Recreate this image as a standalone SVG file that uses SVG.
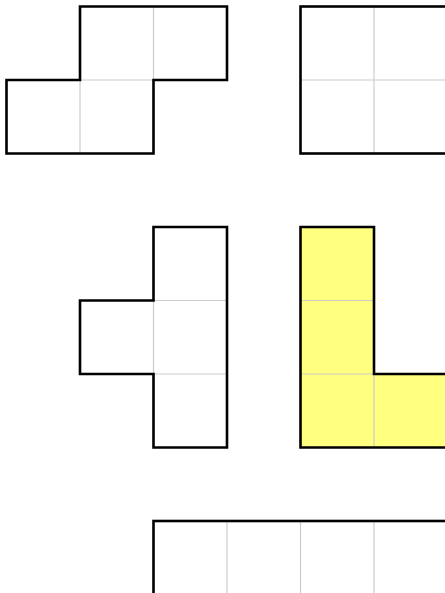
<svg xmlns="http://www.w3.org/2000/svg" width="445" height="593" viewBox="0 0 445 593">
<style>
.grid{stroke:#cccccc;stroke-width:1.2;fill:none}
.outline{stroke:#000;stroke-width:2.6;fill:none;stroke-linejoin:miter}
.cellw{fill:#fff}
.celly{fill:#ffff80}
</style>
<rect width="445" height="593" fill="#fff"/>
<g id="s-piece">
<path class="cellw" d="M80,6.5H227V80H153.5V153.5H6.5V80H80Z"/>
<path class="grid" d="M153.5,6.5V80M80,80V153.5M80,80H153.5"/>
<path class="outline" d="M80,6.5H227V80H153.5V153.5H6.5V80H80Z"/>
</g>
<g id="o-piece">
<rect class="cellw" x="300.5" y="6.5" width="147" height="147"/>
<path class="grid" d="M374,6.5V153.5M300.5,80H447.5"/>
<rect class="outline" x="300.5" y="6.5" width="147" height="147"/>
</g>
<g id="t-piece">
<path class="cellw" d="M153.5,227H227V447.5H153.5V374H80V300.5H153.5Z"/>
<path class="grid" d="M153.5,300.5V374M153.5,300.5H227M153.5,374H227"/>
<path class="outline" d="M153.5,227H227V447.5H153.5V374H80V300.5H153.5Z"/>
</g>
<g id="l-piece">
<path class="celly" d="M300.5,227H374V374H447.5V447.5H300.5Z"/>
<path class="grid" d="M300.5,300.5H374M300.5,374H374M374,374V447.5"/>
<path class="outline" d="M300.5,227H374V374H447.5V447.5H300.5Z"/>
</g>
<g id="i-piece">
<rect class="cellw" x="153.5" y="521" width="294" height="73.5"/>
<path class="grid" d="M227,521V594.5M300.5,521V594.5M374,521V594.5"/>
<rect class="outline" x="153.5" y="521" width="294" height="73.5"/>
</g>
<g id="connectors"></g>
</svg>
